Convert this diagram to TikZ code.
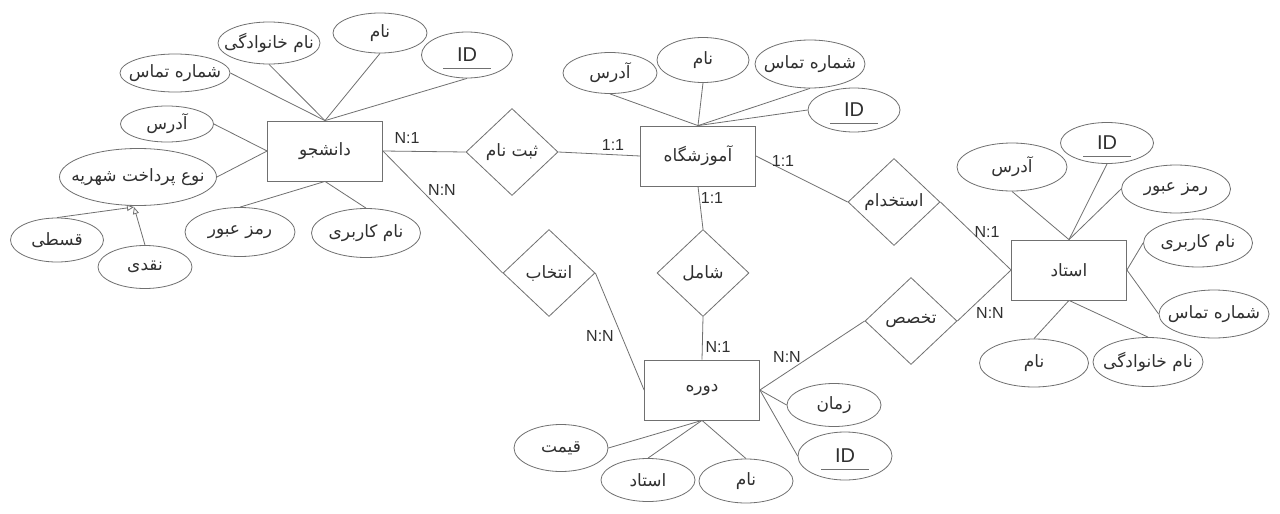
\documentclass[tikz,border=0pt]{standalone}
\usepackage{fontspec}
\setmainfont{Liberation Sans}
\newfontfamily\arabicfont[Script=Arabic]{DejaVu Sans}
\TeXXeTstate=1
\usetikzlibrary{shapes.geometric,arrows.meta,calc}
\newcommand{\pers}[1]{\makebox[0pt]{\arabicfont\beginR #1\endR}}
\definecolor{ln}{HTML}{707070}
\definecolor{tx}{HTML}{303030}
\tikzset{
  ent/.style={draw=ln, line width=0.8pt, rectangle, minimum width=115pt, minimum height=60pt, inner sep=0pt, text=tx, font=\fontsize{17}{19}\selectfont},
  rel/.style={draw=ln, line width=0.8pt, diamond, minimum width=92pt, minimum height=87pt, inner sep=0pt, text=tx, font=\fontsize{17}{19}\selectfont},
  attr/.style={draw=ln, line width=0.8pt, ellipse, inner sep=0pt, text=tx, font=\fontsize{17}{19}\selectfont},
  con/.style={draw=ln, line width=0.8pt},
  card/.style={text=tx, font=\fontsize{16}{18}\selectfont, inner sep=0pt},
  idt/.style={text=tx, font=\fontsize{20}{22}\selectfont, inner sep=0pt},
}
\newcommand{\idnode}[4]{% name, x, y, size spec
  \node[attr, #4] (#1) at (#2,#3) {};
  \node[idt] (#1-t) at (#2,#3) {ID};
  \coordinate (#1-ul) at ($(#1)+(-24,13)$);
  \coordinate (#1-ur) at ($(#1)+(24,13)$);
  \draw[con] (#1-ul) -- (#1-ur);
}
\begin{document}
\begin{tikzpicture}[x=1pt,y=-1pt]
\useasboundingbox[fill=white] (0,0) rectangle (1280,514);

% entities
\node[ent] (stu) at (325,151) {\pers{دانشجو}};
\node[ent] (sch) at (698,156) {\pers{آموزشگاه}};
\node[ent] (tea) at (1069,270) {\pers{استاد}};
\node[ent] (crs) at (702,390) {\pers{دوره}};

% relationships
\node[rel] (reg) at (512,152) {\pers{ثبت نام}};
\node[rel] (emp) at (894,202) {\pers{استخدام}};
\node[rel] (spec) at (911,321) {\pers{تخصص}};
\node[rel] (sel) at (549,273) {\pers{انتخاب}};
\node[rel] (inc) at (703,273) {\pers{شامل}};

% student attributes
\node[attr, minimum width=102pt, minimum height=42pt] (sfam) at (269,43) {\pers{نام خانوادگی}};
\node[attr, minimum width=94pt, minimum height=40pt] (sname) at (380,33) {\pers{نام}};
\idnode{sid}{467}{55}{minimum width=91pt, minimum height=46pt}
\node[attr, minimum width=110pt, minimum height=38pt] (sphone) at (175,73) {\pers{شماره تماس}};
\node[attr, minimum width=93pt, minimum height=36pt] (saddr) at (167,124) {\pers{آدرس}};
\node[attr, minimum width=157pt, minimum height=57pt] (spay) at (138,177) {\pers{نوع پرداخت شهریه}};
\node[attr, minimum width=93pt, minimum height=44pt] (sinst) at (57,240) {\pers{قسطی}};
\node[attr, minimum width=94pt, minimum height=43pt] (scash) at (145,267) {\pers{نقدی}};
\node[attr, minimum width=110pt, minimum height=49pt] (spass) at (240,232) {\pers{رمز عبور}};
\node[attr, minimum width=109pt, minimum height=49pt] (suser) at (366,233) {\pers{نام کاربری}};
\coordinate (ptip) at (134,207);

% school attributes
\node[attr, minimum width=94pt, minimum height=41pt] (caddr) at (610,73) {\pers{آدرس}};
\node[attr, minimum width=92pt, minimum height=45pt] (cname) at (703,60) {\pers{نام}};
\node[attr, minimum width=110pt, minimum height=48pt] (cphone) at (810,64) {\pers{شماره تماس}};
\idnode{cid}{854}{110}{minimum width=92pt, minimum height=44pt}

% teacher attributes
\node[attr, minimum width=110pt, minimum height=48pt] (taddr) at (1012,167) {\pers{آدرس}};
\idnode{tid}{1107}{143}{minimum width=93pt, minimum height=41pt}
\node[attr, minimum width=109pt, minimum height=48pt] (tpass) at (1176,189) {\pers{رمز عبور}};
\node[attr, minimum width=109pt, minimum height=48pt] (tuser) at (1198,243) {\pers{نام کاربری}};
\node[attr, minimum width=110pt, minimum height=48pt] (tphone) at (1214,314) {\pers{شماره تماس}};
\node[attr, minimum width=110pt, minimum height=49pt] (tfam) at (1148,362) {\pers{نام خانوادگی}};
\node[attr, minimum width=109pt, minimum height=48pt] (tname) at (1034,363) {\pers{نام}};

% course attributes
\node[attr, minimum width=94pt, minimum height=43pt] (ktime) at (834,405) {\pers{زمان}};
\idnode{kid}{845}{456}{minimum width=94pt, minimum height=48pt}
\node[attr, minimum width=94pt, minimum height=47pt] (kprice) at (561,448) {\pers{قیمت}};
\node[attr, minimum width=94pt, minimum height=43pt] (kteach) at (648,480) {\pers{استاد}};
\node[attr, minimum width=94pt, minimum height=44pt] (kname) at (746,481) {\pers{نام}};

% attribute connectors
\draw[con] (stu.north) -- (sphone.east);
\draw[con] (stu.north) -- (sfam.south);
\draw[con] (stu.north) -- (sname.south);
\draw[con] (stu.north) -- (sid.south);
\draw[con] (stu.west) -- (saddr.east);
\draw[con] (stu.west) -- (spay.east);
\draw[con] (stu.south) -- (spass.north);
\draw[con] (stu.south) -- (suser.north);
\draw[con, -{Triangle[open, length=7pt, width=6pt]}] (sinst.north) -- (ptip);
\draw[con, -{Triangle[open, length=7pt, width=6pt]}] (scash.north) -- (ptip);

\draw[con] (sch.north) -- (caddr.south);
\draw[con] (sch.north) -- (cname.south);
\draw[con] (sch.north) -- (cphone.south);
\draw[con] (sch.north) -- (cid.west);

\draw[con] (tea.north) -- (taddr.south);
\draw[con] (tea.north) -- (tid.south);
\draw[con] (tea.north) -- (tpass.west);
\draw[con] (tea.east) -- (tuser.west);
\draw[con] (tea.east) -- (tphone.west);
\draw[con] (tea.south) -- (tfam.north);
\draw[con] (tea.south) -- (tname.north);

\draw[con] (crs.east) -- (ktime.west);
\draw[con] (crs.east) -- (kid.west);
\draw[con] (crs.south) -- (kprice.east);
\draw[con] (crs.south) -- (kteach.north);
\draw[con] (crs.south) -- (kname.north);

% relationship connectors
\draw[con] (stu.east) -- (reg.west);
\draw[con] (reg.east) -- (sch.west);
\draw[con] (stu.east) -- (sel.west);
\draw[con] (sel.east) -- (crs.west);
\draw[con] (sch.south) -- (inc.north);
\draw[con] (inc.south) -- (crs.north);
\draw[con] (sch.east) -- (emp.west);
\draw[con] (emp.east) -- (tea.west);
\draw[con] (tea.west) -- (spec.east);
\draw[con] (spec.west) -- (crs.east);

% cardinalities
\node[card] (c1) at (407,138) {N:1};
\node[card] (c2) at (613,145) {1:1};
\node[card] (c3) at (442,190) {N:N};
\node[card] (c4) at (600,336) {N:N};
\node[card] (c5) at (712,198) {1:1};
\node[card] (c6) at (718,347) {N:1};
\node[card] (c7) at (783,161) {1:1};
\node[card] (c8) at (987,232) {N:1};
\node[card] (c9) at (990,313) {N:N};
\node[card] (c10) at (787,357) {N:N};
\end{tikzpicture}
\end{document}
